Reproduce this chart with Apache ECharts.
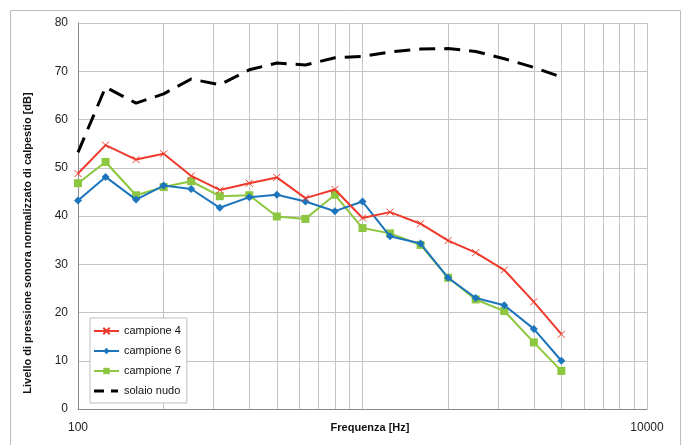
<!DOCTYPE html>
<html>
<head>
<meta charset="utf-8">
<script src="https://cdn.jsdelivr.net/npm/echarts@6/dist/echarts.min.js"></script>
<style>
html,body{margin:0;padding:0;background:#fff;}
#chart{width:686px;height:445px;}
</style>
</head>
<body>
<div id="chart"></div>
<script>
var freqs = [100,125,160,200,250,315,400,500,630,800,1000,1250,1600,2000,2500,3150,4000,5000];
var campione4 = [48.8,54.7,51.7,52.9,48.3,45.4,46.8,48.0,43.7,45.5,39.6,40.8,38.4,34.9,32.4,28.8,22.2,15.5];
var campione6 = [43.2,48.1,43.4,46.3,45.6,41.7,43.9,44.4,43.0,41.0,43.0,35.8,34.3,27.2,23.0,21.5,16.6,10.0];
var campione7 = [46.8,51.2,44.3,46.0,47.2,44.1,44.3,39.9,39.4,44.4,37.5,36.4,34.0,27.2,22.7,20.3,13.8,7.9];
var solaioNudo = [53.2,66.7,63.4,65.3,68.4,67.2,70.3,71.7,71.3,72.8,73.1,74.0,74.6,74.7,74.1,72.6,70.8,68.8];
var minorGrid = [200,300,400,500,600,700,800,900,2000,3000,4000,5000,6000,7000,8000,9000];
var xTickLabels = [100, 10000];
var seriesNames = ['campione 4','campione 6','campione 7','solaio nudo'];

function pairs(vals){ return freqs.map(function(f,i){ return [f, vals[i]]; }); }

var FONT = "'Liberation Sans', Arial, sans-serif";
var chart = echarts.init(document.getElementById('chart'), null, {renderer:'canvas'});
chart.setOption({
  animation:false,
  backgroundColor:'#fff',
  textStyle:{fontFamily:FONT},
  graphic:[{type:'rect', shape:{x:10.5,y:10.5,width:670,height:450}, style:{fill:'none', stroke:'#BDBDBD', lineWidth:1}, silent:true, z:-1}],
  grid:{left:78, right:39, top:23, bottom:36, containLabel:false, outerBoundsMode:'none'},
  legend:{
    orient:'vertical', left:90, top:318,
    data:[
      {name:seriesNames[0]},
      {name:seriesNames[1]},
      {name:seriesNames[2]},
      {name:seriesNames[3], icon:'path://M0 0M25 8M0 2.5H10V5.5H0Z M17 2.5H24V5.5H17Z'}
    ],
    itemWidth:25, itemHeight:8, itemGap:6,
    padding:[6,6,5,3],
    borderColor:'#BDBDBD', borderWidth:1, backgroundColor:'#fff',
    textStyle:{fontFamily:FONT, fontSize:11, color:'#111', lineHeight:14}
  },
  xAxis:{
    type:'log', logBase:10, min:100, max:10000,
    name:'Frequenza [Hz]', nameLocation:'middle', nameGap:13, nameMoveOverlap:false,
    nameTextStyle:{fontFamily:FONT, fontSize:11, fontWeight:'bold', color:'#111', padding:[0,0,0,15]},
    axisLine:{lineStyle:{color:'#888', width:1}},
    axisTick:{show:false},
    axisLabel:{fontFamily:FONT, fontSize:12, color:'#222', margin:13,
      formatter:function(v){ return xTickLabels.indexOf(v) >= 0 ? String(v) : ''; }},
    splitLine:{show:true, lineStyle:{color:'#C4C4C4', width:1}},
    minorTick:{show:false}
  },
  yAxis:{
    type:'value', min:0, max:80, interval:10,
    name:'Livello di pressione sonora normalizzato di calpestio [dB]',
    nameLocation:'middle', nameRotate:90, nameGap:45, nameMoveOverlap:false,
    nameTextStyle:{fontFamily:FONT, fontSize:11, fontWeight:'bold', color:'#111', padding:[0,54,0,0]},
    axisLine:{show:true, lineStyle:{color:'#888', width:1}},
    axisTick:{show:false},
    axisLabel:{fontFamily:FONT, fontSize:12, color:'#222', margin:10},
    splitLine:{show:true, lineStyle:{color:'#C4C4C4', width:1}}
  },
  series:[
    {name:'campione 4', type:'line', data:pairs(campione4),
      symbol:'path://M0 0L10 10M10 0L0 10', symbolSize:7,
      lineStyle:{color:'#EE3A2C', width:2},
      itemStyle:{color:'#EE3A2C', borderColor:'#EE3A2C', borderWidth:1},
      markLine:{silent:true, symbol:['none','none'], label:{show:false},
        lineStyle:{color:'#C4C4C4', width:1, type:'solid'},
        data:minorGrid.map(function(f){ return {xAxis:f}; }), z:0},
      z:4},
    {name:'campione 6', type:'line', data:pairs(campione6),
      symbol:'diamond', symbolSize:8,
      lineStyle:{color:'#1C75BC', width:2},
      itemStyle:{color:'#1C75BC'}, z:3},
    {name:'campione 7', type:'line', data:pairs(campione7),
      symbol:'rect', symbolSize:8,
      lineStyle:{color:'#8DC63F', width:2},
      itemStyle:{color:'#8DC63F'}, z:2},
    {name:'solaio nudo', type:'line', data:pairs(solaioNudo),
      symbol:'none',
      lineStyle:{color:'#000', width:3, type:[16,9]},
      itemStyle:{color:'#000'}, z:5}
  ]
});
</script>
</body>
</html>
